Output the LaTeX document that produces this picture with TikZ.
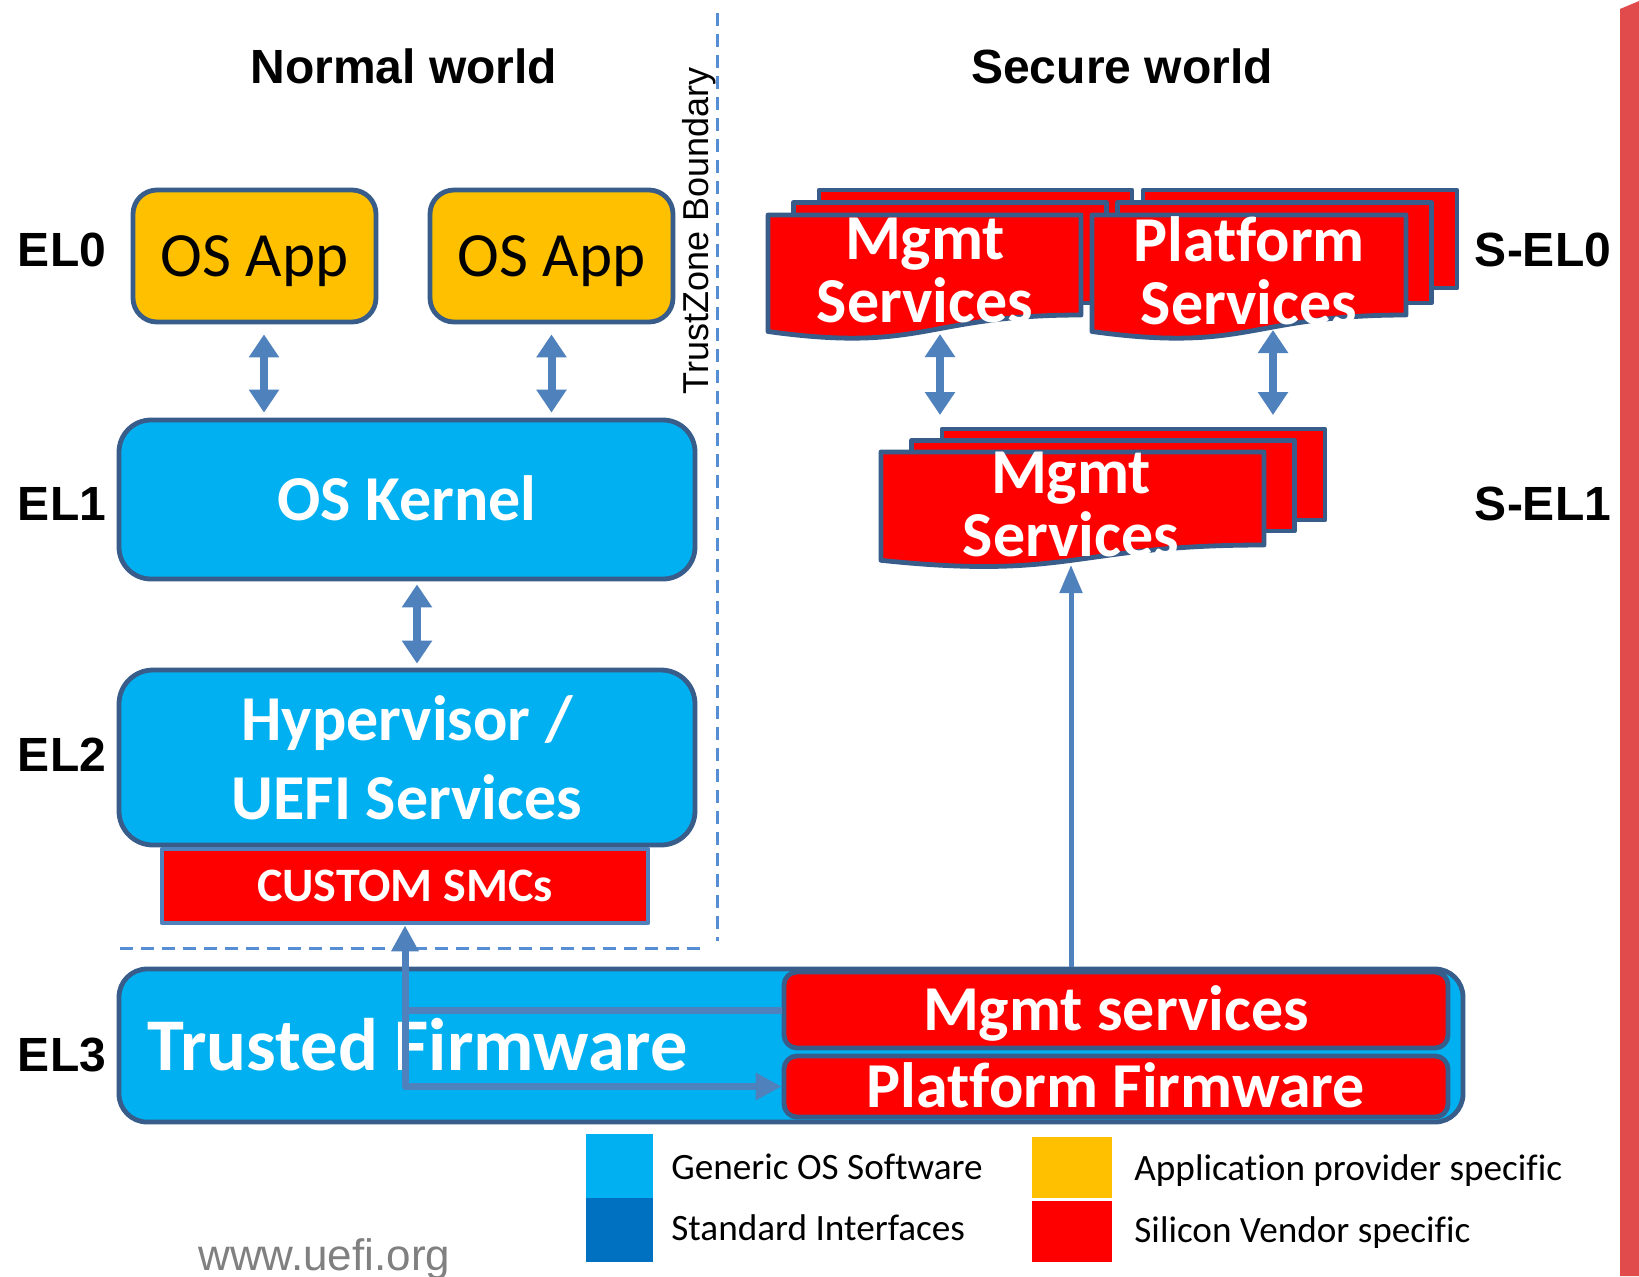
\documentclass[tikz,border=0pt]{standalone}
\usepackage{fontspec}
\setmainfont{Carlito}[Ligatures=CommonOff]
\newfontfamily\arialf{Liberation Sans}
\usetikzlibrary{arrows.meta}
\definecolor{cyanbox}{HTML}{00B0F0}
\definecolor{orangebox}{HTML}{FFC000}
\definecolor{redbox}{HTML}{FF0000}
\definecolor{edgeblue}{HTML}{385D8A}
\definecolor{arrowblue}{HTML}{4F81BD}
\definecolor{dashblue}{HTML}{558ED5}
\definecolor{stdblue}{HTML}{0070C0}
\definecolor{sidebar}{HTML}{E24B4B}
\definecolor{urlgray}{HTML}{808080}
\newcommand\docstack[9]{%
  \filldraw[doc] ({#1+2*(#6)},{#2+2*(#7)}) rectangle ({#1+2*(#6)+#3},#9);
  \filldraw[doc] ({#1+#6},{#2+#7}) rectangle ({#1+#6+#3},#8);
  \filldraw[doc] (#1,#2) -- ({#1+#3},#2) -- ({#1+#3},#4) .. controls ({#1+0.5*#3},#4) and ({#1+0.5*#3},{#4+0.3056*#5}) .. (#1,{#4+0.1319*#5}) -- cycle;}
\begin{document}
\begin{tikzpicture}[x=0.5pt,y=-0.5pt,line join=round,
  bluebox/.style={draw=edgeblue, line width=2.4pt, fill=cyanbox, rounded corners=16pt, text=white, font=\bfseries\fontsize{32}{39.5}\selectfont, align=center, inner sep=0pt},
  appbox/.style={draw=edgeblue, line width=2.4pt, fill=orangebox, rounded corners=12pt, text=black, font=\fontsize{31.5}{36}\selectfont, inner sep=0pt, text height=20.5pt, text depth=0pt},
  redrect/.style={draw=arrowblue, line width=2.4pt, fill=redbox, text=white, font=\bfseries\fontsize{24}{28}\selectfont, inner sep=0pt, text height=15.5pt, text depth=0pt},
  redround/.style={draw=edgeblue, line width=2.4pt, fill=redbox, rounded corners=6.5pt, text=white, font=\bfseries\fontsize{32}{36}\selectfont, inner sep=0pt, text height=20.6pt, text depth=0pt},
  doc/.style={draw=edgeblue, line width=2.4pt, fill=redbox},
  doctext/.style={text=white, font=\bfseries\fontsize{32}{31.5}\selectfont, align=center, inner sep=0pt},
  lvl/.style={font=\arialf\bfseries\fontsize{24}{28}\selectfont, anchor=base, inner sep=0pt},
  legtext/.style={anchor=base west, font=\fontsize{18.6}{22}\selectfont, inner sep=0pt},
  swatch/.style={inner sep=0pt, draw=none},
  dbl/.style={draw=arrowblue, line width=4pt, {Triangle[width=14.5pt,length=11.5pt]}-{Triangle[width=14.5pt,length=11.5pt]}},
  single/.style={draw=arrowblue, line width=2.5pt, -{Triangle[width=11pt,length=14pt]}},
  smcarrow/.style={draw=arrowblue, line width=3.5pt, -{Triangle[width=13pt,length=13pt]}},
  tzdash/.style={draw=dashblue, line width=1.5pt, dash pattern=on 6.5pt off 4pt}
]
\useasboundingbox (0,0) rectangle (1639,1276);
\fill[white] (0,0) rectangle (1639,1276);
% side bar
\fill[sidebar] (1620,9) -- (1639,1) -- (1639,1276) -- (1620,1276) -- cycle;

% titles and levels
\node[lvl] (nw) at (404,83) {Normal world};
\node[lvl] (sw) at (1122,83) {Secure world};
\node[lvl] (el0) at (62,266) {EL0};
\node[lvl] (el1) at (62,520) {EL1};
\node[lvl] (el2) at (62,771) {EL2};
\node[lvl] (el3) at (62,1071) {EL3};
\node[lvl] (sel0) at (1543,266) {S-EL0};
\node[lvl] (sel1) at (1543,520) {S-EL1};

% boundaries
\draw[tzdash] (717,13) -- (717,941);
\draw[tzdash] (120,948) -- (702,948);
\node[rotate=90, anchor=base, font=\arialf\fontsize{18}{20}\selectfont, inner sep=0pt] (tzb) at (708,231) {TrustZone Boundary};

% normal world
\node[appbox, minimum width=121.5pt, minimum height=66pt] (appL) at (254.5,256) {OS App};
\node[appbox, minimum width=121.5pt, minimum height=66pt] (appR) at (551.5,256) {OS App};
\node[bluebox, minimum width=288pt, minimum height=79.5pt, text height=20.6pt, text depth=0pt] (kernel) at (407,499.5) {OS Kernel};
\node[bluebox, minimum width=288pt, minimum height=87.5pt, rounded corners=17pt] (hyper) at (407,757.5) {Hypervisor /\\UEFI Services};
\node[redrect, minimum width=243pt, minimum height=37pt] (smc) at (405,886) {CUSTOM SMCs};

% EL3
\node[bluebox, minimum width=672pt, minimum height=76.5pt, rounded corners=14pt] (tf) at (791,1045.5) {};
\node[anchor=base west, text=white, font=\bfseries\fontsize{37.2}{40}\selectfont, inner sep=0pt] (tftext) at (147,1070) {Trusted Firmware};
\node[redround, minimum width=332pt, minimum height=38pt] (msvc) at (1116,1010) {Mgmt services};
\node[redround, minimum width=332pt, minimum height=30.5pt] (pfw) at (1116,1086.5) {Platform Firmware};

% secure world documents
\docstack{768}{215}{313}{315}{125}{25.5}{-12.5}{303}{288}
\docstack{1092}{215}{314}{315}{125}{25.5}{-12.5}{303}{288}
\docstack{881}{452}{383}{545}{116}{30.5}{-11.5}{531}{520}
\node[doctext] (mg0) at (925,270.5) {Mgmt\\Services};
\node[doctext] (pf0) at (1249,270.5) {Platform\\Services};
\node[doctext] (mg1) at (1071,504.5) {Mgmt\\Services};
\coordinate (mg0b) at (940,334);
\coordinate (mg1t) at (940,415);
\coordinate (pf0b) at (1273,330);
\coordinate (pf1t) at (1273,415);
\coordinate (mg1b) at (1071,565);

% arrows
\draw[dbl, shorten <=5pt, shorten >=2.5pt] ([xshift=4.75pt]appL.south) -- ([xshift=4.75pt]appL.south |- kernel.north);
\draw[dbl, shorten <=5pt, shorten >=2.5pt] (appR.south) -- (appR.south |- kernel.north);
\draw[dbl, shorten <=1.5pt, shorten >=2pt] ([xshift=5pt]kernel.south) -- ([xshift=5pt]kernel.south |- hyper.north);
\draw[dbl] (mg0b) -- (mg1t);
\draw[dbl] (pf0b) -- (pf1t);
\draw[single] (tf.north -| mg1) -- (mg1b);
\draw[smcarrow] (msvc.west) -| (smc.south);
\draw[smcarrow] (msvc.west -| smc.south) |- (pfw.west);

% legend
\node[swatch, fill=cyanbox, minimum width=33.5pt, minimum height=32pt] (lg1) at (619.5,1166) {};
\node[swatch, fill=stdblue, minimum width=33.5pt, minimum height=32pt] (lg2) at (619.5,1230) {};
\node[swatch, fill=orangebox, minimum width=40pt, minimum height=30.5pt] (lg3) at (1072,1167.5) {};
\node[swatch, fill=redbox, minimum width=40pt, minimum height=30.5pt] (lg4) at (1072,1231.5) {};
\node[legtext] (lt1) at (671,1179) {Generic OS Software};
\node[legtext] (lt2) at (671,1240) {Standard Interfaces};
\node[legtext] (lt3) at (1134,1180) {Application provider specific};
\node[legtext] (lt4) at (1134,1242) {Silicon Vendor specific};

\node[anchor=base west, text=urlgray, font=\arialf\fontsize{22}{26}\selectfont, inner sep=0pt] (url) at (198,1270) {www.uefi.org};
\end{tikzpicture}
\end{document}
